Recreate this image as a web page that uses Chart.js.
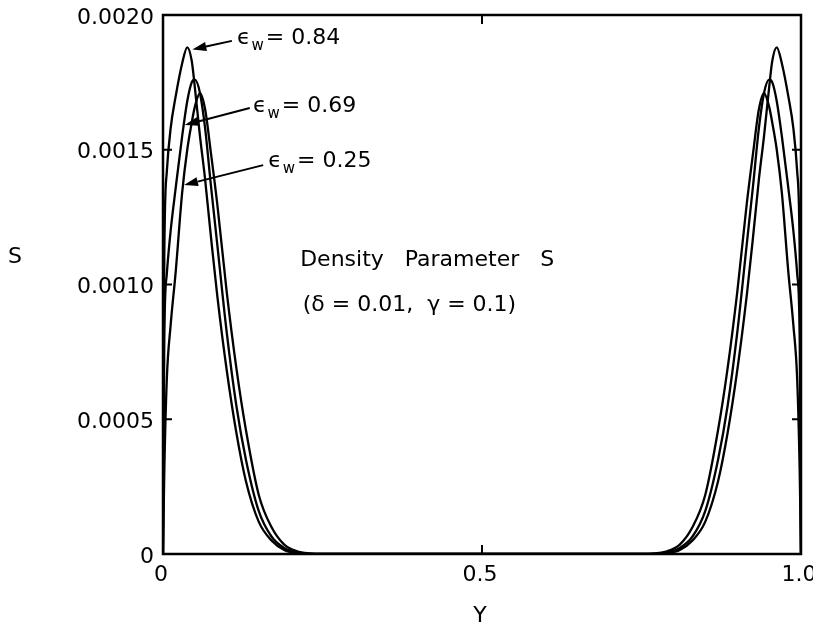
<!DOCTYPE html>
<html lang="en">
<head>
    <meta charset="UTF-8">
    <title>Density Parameter S</title>
    <script src="https://cdn.jsdelivr.net/npm/chart.js"></script>
    <style>
        body {
            margin: 0;
            background: white;
        }
        canvas {
            display: block;
        }
    </style>
</head>
<body>

    <canvas id="sChart" width="813" height="634"></canvas>

    <script>
        // position across the channel (Y)
        const yPos = [0, 0.002, 0.006, 0.012, 0.02, 0.03, 0.038, 0.045, 0.05, 0.058, 0.066, 0.075, 0.085, 0.1, 0.115, 0.13, 0.15, 0.17, 0.19, 0.21, 0.23, 0.25, 0.5,
                      0.75, 0.77, 0.79, 0.81, 0.83, 0.85, 0.87, 0.885, 0.9, 0.915, 0.925, 0.934, 0.942, 0.95, 0.955, 0.962, 0.97, 0.98, 0.988, 0.994, 0.998, 1.0];

        // density parameter S for each wall emissivity
        const sEw084 = [0, 0.00110, 0.00142, 0.00158, 0.00170, 0.00182, 0.00188, 0.00183, 0.00173, 0.00155, 0.00139, 0.00118, 0.00096, 0.00068, 0.00045, 0.00027, 0.00012, 0.00005, 0.000015, 0.000003, 0, 0, 0,
                        0, 0, 0.000003, 0.000015, 0.00005, 0.00012, 0.00027, 0.00045, 0.00068, 0.00096, 0.00118, 0.00139, 0.00155, 0.00173, 0.00183, 0.00188, 0.00182, 0.00170, 0.00158, 0.00142, 0.00110, 0];
        const sEw069 = [0, 0.00080, 0.00104, 0.00120, 0.00136, 0.00155, 0.00168, 0.00175, 0.00176, 0.00171, 0.00158, 0.00137, 0.00115, 0.00082, 0.00055, 0.00035, 0.00016, 0.000065, 0.000022, 0.000005, 0, 0, 0,
                        0, 0, 0.000005, 0.000022, 0.000065, 0.00016, 0.00035, 0.00055, 0.00082, 0.00115, 0.00137, 0.00158, 0.00171, 0.00176, 0.00175, 0.00168, 0.00155, 0.00136, 0.00120, 0.00104, 0.00080, 0];
        const sEw025 = [0, 0.00030, 0.00065, 0.00085, 0.00105, 0.00134, 0.00150, 0.00160, 0.00166, 0.00171, 0.00165, 0.00149, 0.00130, 0.00097, 0.00069, 0.00046, 0.00022, 0.00010, 0.000035, 0.00001, 0.000002, 0, 0,
                        0, 0.000002, 0.00001, 0.000035, 0.00010, 0.00022, 0.00046, 0.00069, 0.00097, 0.00130, 0.00149, 0.00165, 0.00171, 0.00166, 0.00160, 0.00150, 0.00134, 0.00105, 0.00085, 0.00065, 0.00030, 0];

        const xTicks = [0, 0.5, 1.0];
        const xTickLabels = ['0', '0.5', '1.0'];
        const yTicks = [0, 0.0005, 0.0010, 0.0015, 0.0020];
        const yTickLabels = ['0', '0.0005', '0.0010', '0.0015', '0.0020'];

        const FONT = '"DejaVu Sans", sans-serif';

        function points(values) {
            return yPos.map((y, i) => ({ x: y, y: values[i] }));
        }

        function curve(label, values) {
            return {
                label: label,
                data: points(values),
                borderColor: 'black',
                borderWidth: 2.3,
                pointRadius: 0,
                fill: false,
                cubicInterpolationMode: 'monotone'
            };
        }

        function drawLabelEw(ctx, x, y, value) {
            ctx.font = '22px ' + FONT;
            ctx.textBaseline = 'middle';
            ctx.textAlign = 'left';
            ctx.fillText('\u03F5', x, y);
            let w = ctx.measureText('\u03F5').width;
            ctx.font = '15px ' + FONT;
            ctx.fillText('w', x + w + 1, y + 8);
            w += ctx.measureText('w').width + 3;
            ctx.font = '22px ' + FONT;
            ctx.fillText('= ' + value, x + w, y);
        }

        function drawArrow(ctx, x0, y0, x1, y1) {
            const ang = Math.atan2(y1 - y0, x1 - x0);
            const len = 14;
            const hw = 4.5;
            ctx.beginPath();
            ctx.moveTo(x0, y0);
            ctx.lineTo(x1 - Math.cos(ang) * len, y1 - Math.sin(ang) * len);
            ctx.lineWidth = 2;
            ctx.stroke();
            ctx.beginPath();
            ctx.moveTo(x1, y1);
            ctx.lineTo(x1 - Math.cos(ang) * len - Math.sin(ang) * hw, y1 - Math.sin(ang) * len + Math.cos(ang) * hw);
            ctx.lineTo(x1 - Math.cos(ang) * len + Math.sin(ang) * hw, y1 - Math.sin(ang) * len - Math.cos(ang) * hw);
            ctx.closePath();
            ctx.fill();
        }

        const decorations = {
            id: 'decorations',
            afterDatasetsDraw(chart) {
                const ctx = chart.ctx;
                const area = chart.chartArea;
                const xs = chart.scales.x;
                const ys = chart.scales.y;
                const px = v => xs.getPixelForValue(v);
                const py = v => ys.getPixelForValue(v);

                ctx.save();
                ctx.strokeStyle = 'black';
                ctx.fillStyle = 'black';

                // frame
                ctx.lineWidth = 2.5;
                ctx.strokeRect(area.left, area.top, area.right - area.left, area.bottom - area.top);

                // inward ticks
                ctx.lineWidth = 2;
                const tick = 9;
                yTicks.slice(1, -1).forEach(v => {
                    ctx.beginPath();
                    ctx.moveTo(area.left, py(v));
                    ctx.lineTo(area.left + tick, py(v));
                    ctx.moveTo(area.right, py(v));
                    ctx.lineTo(area.right - tick, py(v));
                    ctx.stroke();
                });
                xTicks.slice(1, -1).forEach(v => {
                    ctx.beginPath();
                    ctx.moveTo(px(v), area.bottom);
                    ctx.lineTo(px(v), area.bottom - tick);
                    ctx.moveTo(px(v), area.top);
                    ctx.lineTo(px(v), area.top + tick);
                    ctx.stroke();
                });

                // curve labels with arrows
                drawLabelEw(ctx, px(0.116), py(0.001915), '0.84');
                drawArrow(ctx, px(0.108), py(0.001904), px(0.046), py(0.001872));
                drawLabelEw(ctx, px(0.141), py(0.001662), '0.69');
                drawArrow(ctx, px(0.136), py(0.001655), px(0.034), py(0.001592));
                drawLabelEw(ctx, px(0.165), py(0.001458), '0.25');
                drawArrow(ctx, px(0.157), py(0.001443), px(0.033), py(0.001369));

                // inner title
                ctx.font = '22px ' + FONT;
                ctx.textAlign = 'left';
                ctx.textBaseline = 'middle';
                ctx.fillText('Density   Parameter   S', px(0.215), py(0.001091));
                ctx.fillText('(\u03B4 = 0.01,  \u03B3 = 0.1)', px(0.219), py(0.000924));

                // axis titles
                ctx.textAlign = 'center';
                ctx.fillText('S', 15, py(0.0011));
                ctx.fillText('Y', px(0.5) - 2, area.bottom + 62);
                ctx.restore();
            }
        };

        const sChart = new Chart(document.getElementById('sChart').getContext('2d'), {
            type: 'line',
            data: {
                datasets: [
                    curve('\u03F5w = 0.84', sEw084),
                    curve('\u03F5w = 0.69', sEw069),
                    curve('\u03F5w = 0.25', sEw025)
                ]
            },
            options: {
                responsive: false,
                animation: false,
                layout: { padding: { top: 15, right: 12, bottom: 0, left: 0 } },
                plugins: {
                    legend: { display: false },
                    tooltip: { enabled: false }
                },
                scales: {
                    x: {
                        type: 'linear',
                        min: 0,
                        max: 1,
                        afterBuildTicks: s => { s.ticks = xTicks.map(v => ({ value: v })); },
                        afterFit: s => { s.height = 80; s.paddingLeft = 0; s.paddingRight = 0; },
                        grid: { drawOnChartArea: false, drawTicks: false },
                        border: { display: false },
                        ticks: {
                            color: 'black',
                            font: { family: FONT, size: 22 },
                            padding: 8,
                            labelOffset: -2,
                            maxRotation: 0,
                            callback: v => xTickLabels[xTicks.indexOf(v)]
                        }
                    },
                    y: {
                        type: 'linear',
                        min: 0,
                        max: 0.002,
                        afterBuildTicks: s => { s.ticks = yTicks.map(v => ({ value: v })); },
                        afterFit: s => { s.width = 163; s.paddingTop = 0; s.paddingBottom = 0; },
                        grid: { drawOnChartArea: false, drawTicks: false },
                        border: { display: false },
                        ticks: {
                            color: 'black',
                            font: { family: FONT, size: 22 },
                            padding: 9,
                            labelOffset: 3,
                            callback: v => yTickLabels[yTicks.indexOf(v)]
                        }
                    }
                }
            },
            plugins: [decorations]
        });
    </script>

</body>
</html>
